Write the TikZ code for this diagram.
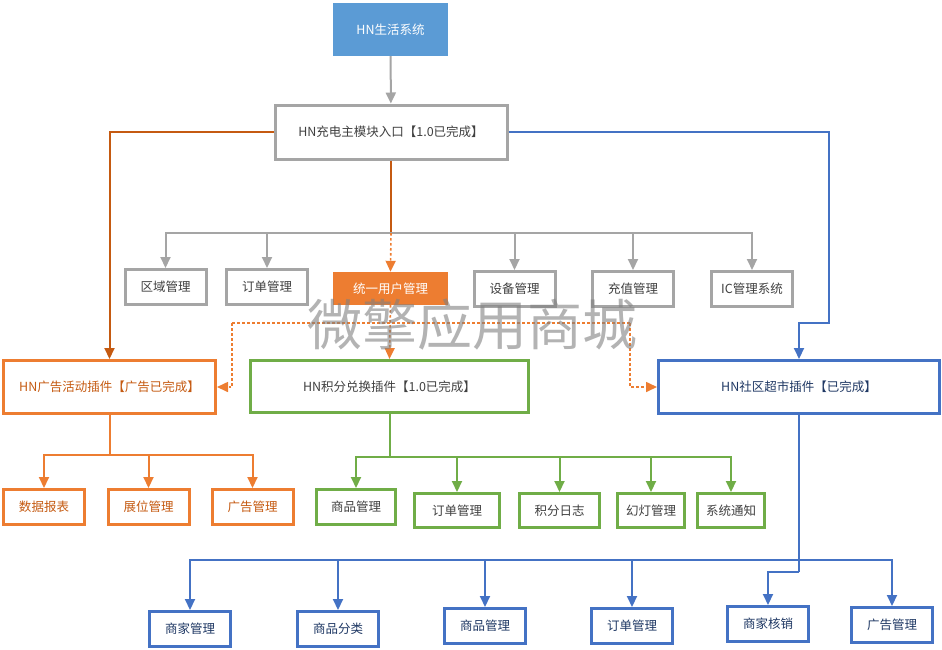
\documentclass[tikz,border=0pt]{standalone}
\usepackage{fontspec}
\setmainfont{Noto Sans CJK SC}
\usetikzlibrary{arrows.meta}
\definecolor{HnBlueFill}{RGB}{91,155,213}
\definecolor{HnGray}{RGB}{165,165,165}
\definecolor{HnOrange}{RGB}{237,125,49}
\definecolor{HnOrangeDark}{RGB}{197,90,17}
\definecolor{HnGreen}{RGB}{112,173,71}
\definecolor{HnBlue}{RGB}{68,114,196}
\definecolor{HnText}{RGB}{64,64,64}
\definecolor{HnBlueText}{RGB}{31,56,100}

\begin{document}
\begin{tikzpicture}[
    x=1pt,y=-1pt,
    box/.style={draw,line width=3pt,fill=white,inner sep=0pt,align=center,font=\fontsize{12.5}{14}\selectfont,text=HnText},
    graybox/.style={box,draw=HnGray},
    orangebox/.style={box,draw=HnOrange,text=HnOrangeDark},
    greenbox/.style={box,draw=HnGreen},
    bluebox/.style={box,draw=HnBlue,text=HnBlueText},
    leaf/.style={minimum width=81pt,minimum height=35pt},
    tip/.style={-{Triangle[length=11pt,width=10pt]}},
    garr/.style={tip,line width=2pt,draw=HnGray},
    oarr/.style={tip,line width=2pt,draw=HnOrange},
    grarr/.style={tip,line width=2pt,draw=HnGreen},
    barr/.style={tip,line width=2pt,draw=HnBlue},
    odash/.style={line width=1.6pt,draw=HnOrange,dash pattern=on 2.5pt off 2.5pt}
  ]
    \useasboundingbox (0,0) rectangle (942,649);

    % top level
    \node[draw=none,fill=HnBlueFill,text=white,font=\fontsize{12.5}{14}\selectfont,minimum width=115pt,minimum height=53pt] (sys) at (390.5,29.5) {HN生活系统};
    \node[graybox,minimum width=232pt,minimum height=54pt] (main) at (391,132) {HN充电主模块入口【1.0已完成】};

    % charging modules
    \node[graybox,leaf] (quyu) at (165.5,287) {区域管理};
    \node[graybox,leaf] (dingdan) at (267,287) {订单管理};
    \node[draw=none,fill=HnOrange,text=white,font=\fontsize{12.5}{14}\selectfont,minimum width=115pt,minimum height=33pt] (tongyi) at (390.5,288.5) {统一用户管理};
    \node[graybox,leaf] (shebei) at (514.5,289) {设备管理};
    \node[graybox,leaf] (chongzhi) at (633,289) {充值管理};
    \node[graybox,leaf] (ic) at (752,289) {IC管理系统};

    % plugins
    \node[orangebox,minimum width=212pt,minimum height=53pt] (ad) at (109.5,387) {HN广告活动插件【广告已完成】};
    \node[greenbox,minimum width=278pt,minimum height=52pt] (jf) at (389.5,386.5) {HN积分兑换插件【1.0已完成】};
    \node[bluebox,minimum width=281pt,minimum height=53pt] (sq) at (799,387) {HN社区超市插件【已完成】};

    % ad plugin leaves
    \node[orangebox,leaf] (shuju) at (44,507) {数据报表};
    \node[orangebox,leaf] (zhanwei) at (148.5,507) {展位管理};
    \node[orangebox,leaf] (guanggao) at (252.5,507) {广告管理};

    % points plugin leaves
    \node[greenbox,leaf,minimum width=79pt] (jfsp) at (356,507) {商品管理};
    \node[greenbox,leaf,minimum width=85pt,minimum height=34pt] (jfdd) at (457,510.5) {订单管理};
    \node[greenbox,leaf,minimum width=80pt,minimum height=34pt] (jfrz) at (559.5,510.5) {积分日志};
    \node[greenbox,leaf,minimum width=67pt,minimum height=34pt] (jfhd) at (651,510.5) {幻灯管理};
    \node[greenbox,leaf,minimum width=67pt,minimum height=34pt] (jftz) at (731,510.5) {系统通知};

    % market plugin leaves
    \node[bluebox,leaf] (sqsj) at (190,629) {商家管理};
    \node[bluebox,leaf] (sqfl) at (338,629) {商品分类};
    \node[bluebox,leaf] (sqsp) at (485,626) {商品管理};
    \node[bluebox,leaf] (sqdd) at (632,626) {订单管理};
    \node[bluebox,leaf] (sqhx) at (768,624) {商家核销};
    \node[bluebox,leaf] (sqgg) at (892,625) {广告管理};

    % bend points
    \coordinate (bus) at (391,233);
    \coordinate (bj) at (829,323);
    \coordinate (dl) at (232,323);
    \coordinate (dr) at (630,323);
    \coordinate (ab) at (109.5,455);
    \coordinate (jb) at (389.5,457);
    \coordinate (sb) at (799,560);
    \coordinate (sb2) at (799,572);

    % connectors
    \draw[garr] (sys) -- (main);
    \draw[oarr,draw=HnOrangeDark] (main.west) -| (ad.north);
    \draw[barr] (main.east) -| (bj) -| (sq.north);
    \draw[line width=2pt,draw=HnOrangeDark] (main.south) -- (bus);
    \foreach \n in {quyu,dingdan,shebei,chongzhi,ic}
      \draw[garr] (bus) -| (\n.north);
    \draw[odash,tip] (bus) -- (tongyi.north);
    \draw[odash,tip] (tongyi.south) -- (jf.north);
    \draw[odash] (dl) -- (dr);
    \draw[odash,tip] (dl) |- (ad.east);
    \draw[odash,tip] (dr) |- (sq.west);

    \draw[line width=2pt,draw=HnOrange] (ad.south) -- (ab);
    \foreach \n in {shuju,zhanwei,guanggao}
      \draw[oarr] (ab) -| (\n.north);

    \draw[line width=2pt,draw=HnGreen] (jf.south) -- (jb);
    \foreach \n in {jfsp,jfdd,jfrz,jfhd,jftz}
      \draw[grarr] (jb) -| (\n.north);

    \draw[line width=2pt,draw=HnBlue] (sq.south) -- (sb2);
    \foreach \n in {sqsj,sqfl,sqsp,sqdd,sqgg}
      \draw[barr] (sb) -| (\n.north);
    \draw[barr] (sb2) -| (sqhx.north);

    % watermark
    \node[text=gray,opacity=0.6,font=\fontsize{55}{58}\selectfont] (mark) at (472,325) {微擎应用商城};
\end{tikzpicture}
\end{document}
